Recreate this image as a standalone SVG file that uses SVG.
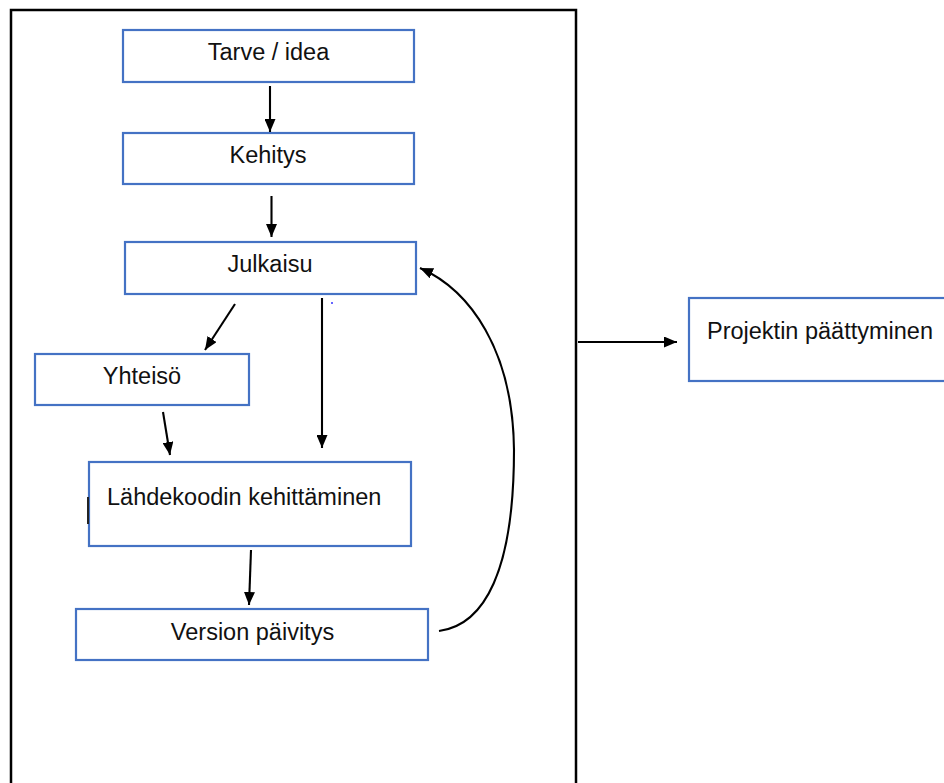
<svg xmlns="http://www.w3.org/2000/svg" width="944" height="783" viewBox="0 0 944 783">
<style>
.box{fill:#ffffff;stroke:#4472C4;stroke-width:2.2}
.lbl{font-family:"Liberation Sans",Arial,sans-serif;font-size:23.5px;fill:#111111}
.conn{fill:none;stroke:#000000;stroke-width:2.1;marker-end:url(#ah)}
</style>
<defs>
<marker id="ah" viewBox="0 0 13 11" refX="13" refY="5.5" markerWidth="13" markerHeight="11" markerUnits="userSpaceOnUse" orient="auto">
<path d="M0,0 L13,5.5 L0,11 Z" fill="#000000"/>
</marker>
</defs>
<rect width="944" height="783" fill="#ffffff"/>
<g id="frame">
<rect x="11" y="10" width="565" height="800" fill="none" stroke="#000000" stroke-width="2.5"/>
</g>
<g id="n-tarve">
<rect class="box" x="123" y="30" width="291" height="52"/>
<text class="lbl" x="268.5" y="60" text-anchor="middle">Tarve / idea</text>
</g>
<g id="n-kehitys">
<rect class="box" x="123" y="133" width="291" height="51"/>
<text class="lbl" x="268" y="163" text-anchor="middle">Kehitys</text>
</g>
<g id="n-julkaisu">
<rect class="box" x="125" y="242" width="291" height="52"/>
<text class="lbl" x="270" y="272" text-anchor="middle">Julkaisu</text>
</g>
<g id="n-yhteiso">
<rect class="box" x="35" y="354" width="214" height="51"/>
<text class="lbl" x="142" y="384" text-anchor="middle">Yhteisö</text>
</g>
<g id="n-lahdekoodi">
<rect class="box" x="89" y="462" width="322" height="84"/>
<line x1="88" y1="497" x2="88" y2="524" stroke="#222222" stroke-width="2"/>
<text class="lbl" x="107" y="505">Lähdekoodin kehittäminen</text>
</g>
<g id="n-versio">
<rect class="box" x="76" y="609" width="352" height="51"/>
<text class="lbl" x="252.5" y="640" text-anchor="middle">Version päivitys</text>
</g>
<g id="n-projekti">
<rect class="box" x="689" y="298" width="270" height="83"/>
<text class="lbl" x="707" y="339">Projektin päättyminen</text>
</g>
<g id="connectors">
<line class="conn" x1="270" y1="86" x2="270" y2="132"/>
<line class="conn" x1="271.5" y1="196" x2="271.5" y2="237"/>
<line class="conn" x1="235" y1="304" x2="205" y2="350"/>
<line class="conn" x1="322" y1="298" x2="322" y2="448"/>
<line class="conn" x1="163" y1="412" x2="170" y2="455"/>
<line class="conn" x1="251" y1="550" x2="249" y2="605"/>
<line class="conn" x1="578" y1="342" x2="677" y2="342"/>
<path class="conn" d="M439,631 C485,625 514,570 514,450 C513,350 470,290 420,268"/>
<circle cx="332" cy="303" r="1" fill="#3333ff"/>
</g>
</svg>
